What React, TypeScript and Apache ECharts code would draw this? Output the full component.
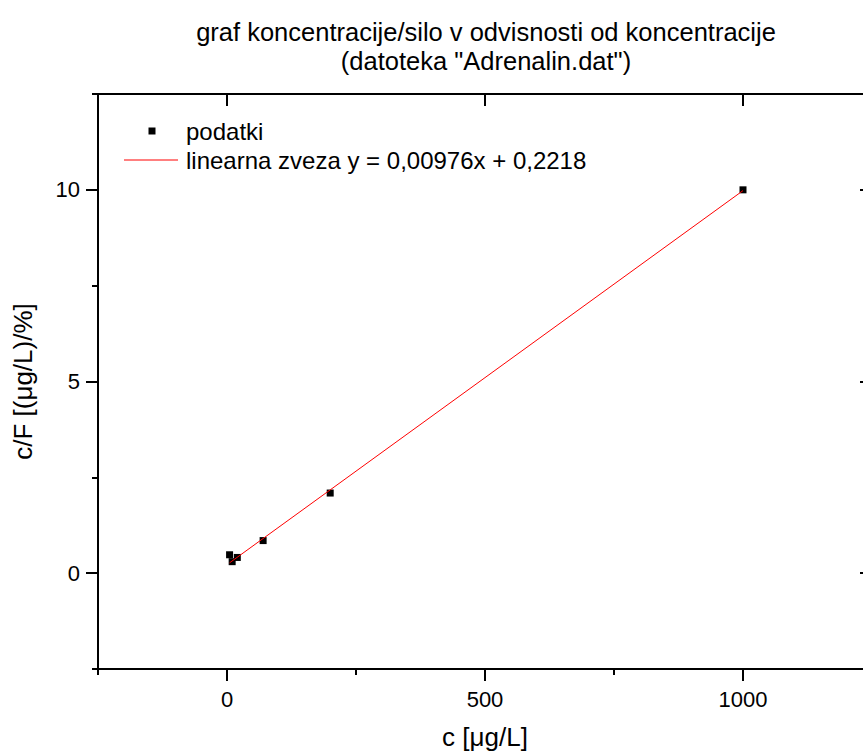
import React, { useEffect, useRef } from "react";
import * as echarts from "echarts";

const dataX = [5, 10, 20, 70, 200, 1000];
const dataY = [0.48, 0.3, 0.41, 0.85, 2.09, 10.0];
const fitX = [5, 1000];
const fitY = [0.27, 9.98];
const xMajor = [0, 500, 1000];
const xMinor = [-250, 250, 750, 1250];
const yMajor = [0, 5, 10];
const yMinor = [-2.5, 2.5, 7.5, 12.5];
const titleLines = ["graf koncentracije/silo v odvisnosti od koncentracije", '(datoteka "Adrenalin.dat")'];
const legendNames = ["podatki", "linearna zveza y = 0,00976x + 0,2218"];
const xName = "c [μg/L]";
const yName = "c/F [(μg/L)/%]";

const FONT = "'Liberation Sans', Arial, sans-serif";

export default function App() {
  const ref = useRef<HTMLDivElement>(null);
  useEffect(() => {
    if (!ref.current) return;
    const chart = echarts.init(ref.current, null, { renderer: "svg" });
    const lineStyle = { color: "#000", width: 2 };
    const fmt = (v: number) => String(v);
    const xBase = { type: "value", min: -250, max: 1250, splitLine: { show: false } };
    const yBase = { type: "value", min: -2.5, max: 12.5, splitLine: { show: false } };
    const option: any = {
      animation: false,
      backgroundColor: "#fff",
      grid: { left: 98, top: 94, width: 774, height: 575, containLabel: false, outerBoundsMode: "none" },
      xAxis: [
        {
          ...xBase,
          position: "bottom",
          name: xName,
          nameLocation: "middle",
          nameGap: 55,
          nameTextStyle: { fontFamily: FONT, fontSize: 26, color: "#000" },
          axisLine: { show: true, onZero: false, lineStyle },
          axisTick: { show: true, length: 12, inside: false, lineStyle, customValues: xMajor },
          axisLabel: { show: true, margin: 19, fontFamily: FONT, fontSize: 22, color: "#000", customValues: xMajor, formatter: fmt },
        },
        {
          ...xBase,
          position: "bottom",
          axisLine: { show: false, onZero: false },
          axisTick: { show: true, length: 6, inside: false, lineStyle, customValues: xMinor },
          axisLabel: { show: false },
        },
        {
          ...xBase,
          position: "top",
          axisLine: { show: true, onZero: false, lineStyle },
          axisTick: { show: true, length: 12, inside: true, lineStyle, customValues: xMajor },
          axisLabel: { show: false },
        },
      ],
      yAxis: [
        {
          ...yBase,
          position: "left",
          name: yName,
          nameLocation: "middle",
          nameGap: 62,
          nameRotate: 90,
          nameTextStyle: { fontFamily: FONT, fontSize: 26, color: "#000" },
          axisLine: { show: true, onZero: false, lineStyle },
          axisTick: { show: true, length: 12, inside: false, lineStyle, customValues: yMajor },
          axisLabel: { show: true, margin: 18, fontFamily: FONT, fontSize: 22, color: "#000", customValues: yMajor, formatter: fmt },
        },
        {
          ...yBase,
          position: "left",
          axisLine: { show: false, onZero: false },
          axisTick: { show: true, length: 6, inside: false, lineStyle, customValues: yMinor },
          axisLabel: { show: false },
        },
        {
          ...yBase,
          position: "right",
          axisLine: { show: true, onZero: false, lineStyle },
          axisTick: { show: true, length: 12, inside: true, lineStyle, customValues: yMajor },
          axisLabel: { show: false },
        },
      ],
      graphic: [
        { type: "text", x: 486, y: 44.5, style: { text: titleLines[0], align: "center", verticalAlign: "bottom", font: `25.5px ${FONT}`, fill: "#000" } },
        { type: "text", x: 486, y: 47.5, style: { text: titleLines[1], align: "center", verticalAlign: "top", font: `25.5px ${FONT}`, fill: "#000" } },
        { type: "rect", shape: { x: 148.5, y: 127.5, width: 7, height: 7 }, style: { fill: "#000" } },
        { type: "text", x: 186, y: 131, style: { text: legendNames[0], align: "left", verticalAlign: "middle", font: `24px ${FONT}`, fill: "#000" } },
        { type: "line", shape: { x1: 124, y1: 160, x2: 178, y2: 160 }, style: { stroke: "#ff0000", lineWidth: 1 } },
        { type: "text", x: 186, y: 160, style: { text: legendNames[1], align: "left", verticalAlign: "middle", font: `24px ${FONT}`, fill: "#000" } },
      ],
      series: [
        {
          name: legendNames[1],
          type: "line",
          xAxisIndex: 0,
          yAxisIndex: 0,
          data: fitX.map((x, i) => [x, fitY[i]]),
          showSymbol: false,
          symbol: "none",
          lineStyle: { color: "#ff0000", width: 1 },
          z: 3,
        },
        {
          name: legendNames[0],
          type: "scatter",
          xAxisIndex: 0,
          yAxisIndex: 0,
          data: dataX.map((x, i) => [x, dataY[i]]),
          symbol: "rect",
          symbolSize: 7,
          itemStyle: { color: "#000", opacity: 1 },
          z: 2,
        },
      ],
    };
    chart.setOption(option);
    return () => chart.dispose();
  }, []);
  return <div ref={ref} style={{ width: 863, height: 755, position: "absolute", left: 0, top: 0 }} />;
}
